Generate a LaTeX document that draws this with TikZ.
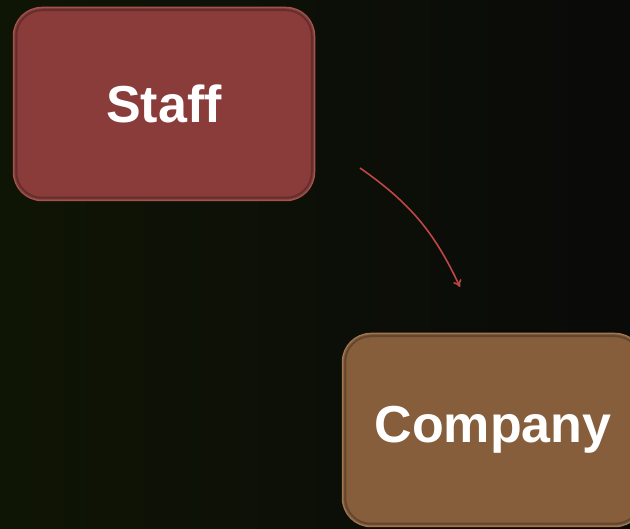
\documentclass[tikz,border=0pt]{standalone}
\usepackage{fontspec}
\setmainfont{Liberation Sans}
\usetikzlibrary{arrows.meta,shadings}
\definecolor{bgL}{RGB}{15,21,5}
\definecolor{bgR}{RGB}{10,10,9}
\definecolor{staffFill}{RGB}{138,60,58}
\definecolor{staffEdge}{RGB}{165,82,76}
\definecolor{compFill}{RGB}{135,94,60}
\definecolor{compEdge}{RGB}{163,118,80}
\definecolor{arrowRed}{RGB}{190,70,70}
\tikzset{
  box/.style={rectangle, rounded corners=28pt, minimum width=300pt, minimum height=192pt,
    line width=2.5pt, text=white, font=\bfseries\fontsize{52}{60}\selectfont, inner sep=0pt},
  rim/.style={draw=black, draw opacity=0.25, line width=3pt, rounded corners=26pt},
  flow/.style={draw=arrowRed, line width=1.6pt, -{To[length=7pt,width=9pt]}}
}
\begin{document}
\begin{tikzpicture}[x=1pt,y=-1pt]
\shade[left color=bgL, right color=bgR] (0,0) rectangle (630,529);
\useasboundingbox (0,0) rectangle (630,529);
\node[box, fill=staffFill, draw=staffEdge] (staff) at (164,104) {Staff};
\draw[rim] ([shift={(3,-3)}]staff.south west) rectangle ([shift={(-3,3)}]staff.north east);
\node[box, fill=compFill, draw=compEdge] (company) at (493,430) {Company};
\draw[rim] ([shift={(3,-3)}]company.south west) rectangle ([shift={(-3,3)}]company.north east);
\coordinate (a1) at (360,168);
\coordinate (a2) at (460,287);
\draw[flow] (a1) to[bend left=15] (a2);
\end{tikzpicture}
\end{document}
